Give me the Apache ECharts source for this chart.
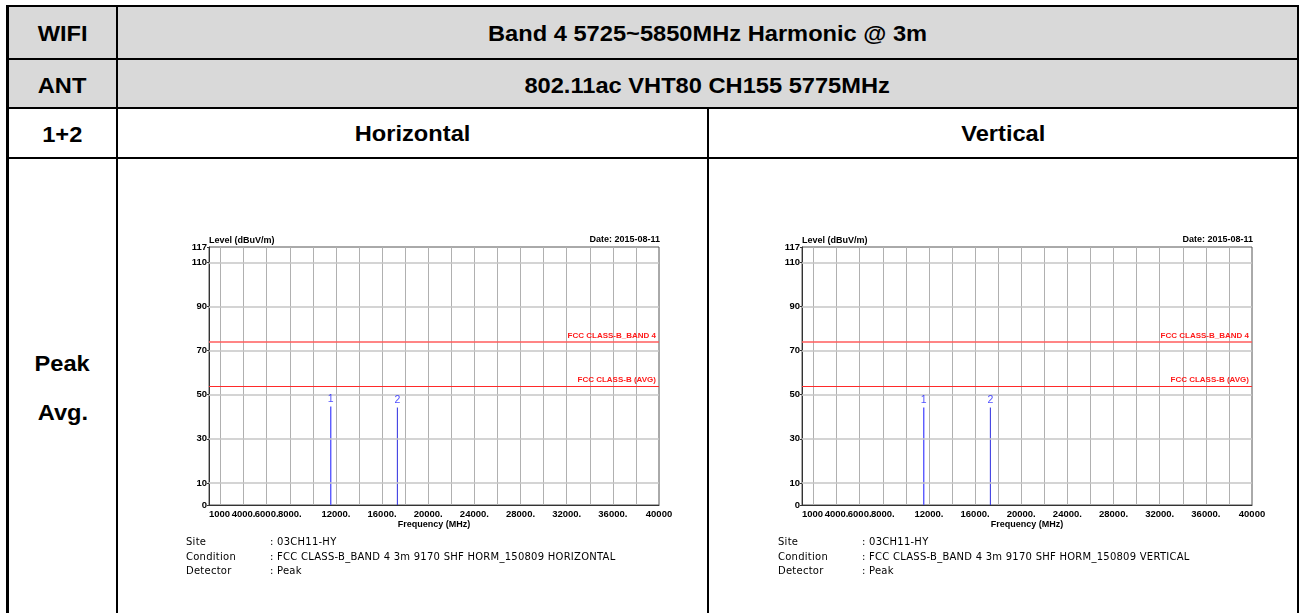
<!DOCTYPE html>
<html>
<head>
<meta charset="utf-8">
<script src="https://cdn.jsdelivr.net/npm/echarts@6/dist/echarts.min.js"></script>
<style>
html,body{margin:0;padding:0;background:#fff;}
#page{position:relative;width:1300px;height:613px;overflow:hidden;font-family:"Liberation Sans",Arial,sans-serif;}
.ln{position:absolute;background:#000;}
.gray{position:absolute;background:#d9d9d9;}
.cell{position:absolute;display:flex;align-items:center;justify-content:center;font-weight:bold;font-size:21.5px;color:#000;line-height:1;}
.cell span{display:inline-block;transform:scaleX(1.1);white-space:nowrap;}
.info{position:absolute;font-family:"DejaVu Sans",sans-serif;font-size:10px;letter-spacing:0.25px;color:#000;line-height:14.5px;white-space:nowrap;}
.info div{height:14.5px;}
#chart{position:absolute;left:0;top:0;width:1300px;height:613px;}
</style>
</head>
<body>
<div id="page">
  <div class="gray" style="left:9px;top:7px;width:1288px;height:101px;"></div>
  <!-- borders -->
  <div class="ln" style="left:6px;top:5px;width:1293px;height:2px;"></div>
  <div class="ln" style="left:6px;top:5px;width:3px;height:608px;"></div>
  <div class="ln" style="left:1297px;top:5px;width:2px;height:608px;"></div>
  <div class="ln" style="left:6px;top:58px;width:1293px;height:2px;"></div>
  <div class="ln" style="left:6px;top:107px;width:1293px;height:2px;"></div>
  <div class="ln" style="left:6px;top:157px;width:1293px;height:2px;"></div>
  <div class="ln" style="left:116px;top:5px;width:2px;height:608px;"></div>
  <div class="ln" style="left:707px;top:108px;width:2px;height:505px;"></div>

  <div class="cell" style="left:9px;top:15px;width:107px;height:40px;"><span>WIFI</span></div>
  <div class="cell" style="left:118px;top:15px;width:1179px;height:40px;"><span>Band 4 5725~5850MHz Harmonic @ 3m</span></div>
  <div class="cell" style="left:9px;top:67px;width:107px;height:40px;"><span>ANT</span></div>
  <div class="cell" style="left:118px;top:67px;width:1179px;height:40px;"><span>802.11ac VHT80 CH155 5775MHz</span></div>
  <div class="cell" style="left:9px;top:116px;width:107px;height:40px;"><span>1+2</span></div>
  <div class="cell" style="left:118px;top:115px;width:589px;height:40px;"><span>Horizontal</span></div>
  <div class="cell" style="left:709px;top:115px;width:588px;height:40px;"><span>Vertical</span></div>
  <div class="cell" style="left:9px;top:345px;width:107px;height:40px;"><span>Peak</span></div>
  <div class="cell" style="left:9px;top:394px;width:107px;height:40px;"><span>Avg.</span></div>

  <div id="chart"></div>

  <div class="info" style="left:186px;top:535px;"><div>Site</div><div>Condition</div><div>Detector</div></div>
  <div class="info" style="left:270px;top:535px;"><div>: 03CH11-HY</div><div>: FCC CLASS-B_BAND 4 3m 9170 SHF HORM_150809 HORIZONTAL</div><div>: Peak</div></div>
  <div class="info" style="left:778px;top:535px;"><div>Site</div><div>Condition</div><div>Detector</div></div>
  <div class="info" style="left:862px;top:535px;"><div>: 03CH11-HY</div><div>: FCC CLASS-B_BAND 4 3m 9170 SHF HORM_150809 VERTICAL</div><div>: Peak</div></div>
</div>
<script>
// ---- data ----
const xMin = 1000, xMax = 40000;
const yMin = 0, yMax = 117;
const xTickValues = [1000, 4000, 6000, 8000, 12000, 16000, 20000, 24000, 28000, 32000, 36000, 40000];
const xTickLabels = ['1000', '4000.', '6000.', '8000.', '12000.', '16000.', '20000.', '24000.', '28000.', '32000.', '36000.', '40000'];
const yTickValues = [0, 10, 30, 50, 70, 90, 110, 117];
const xGridValues = [2000, 4000, 6000, 8000, 10000, 12000, 14000, 16000, 18000, 20000, 22000, 24000, 26000, 28000, 30000, 32000, 34000, 36000, 38000];
const yGridValues = [10, 30, 50, 70, 90, 110];
const limitNames = ['FCC CLASS-B_BAND 4', 'FCC CLASS-B (AVG)'];
const limitLevels = [74, 54];
const markerIds = ['1', '2'];
const spikeFreqH = [11550, 17325];
const spikeLevelH = [44.7, 44.2];
const spikeFreqV = [11550, 17325];
const spikeLevelV = [44.2, 44.2];
const yAxisTitle = 'Level (dBuV/m)';
const xAxisTitle = 'Frequency (MHz)';
const dateText = 'Date: 2015-08-11';

// ---- chart ----
const chart = echarts.init(document.getElementById('chart'), null, {renderer: 'canvas'});
const plotLefts = [209, 802];
const plotTop = 247, plotW = 450, plotH = 258;
const spikeColors = ['#5a5aff', '#2b2bdf'];
const FF = 'Liberation Sans, Arial, sans-serif';
const labelFont = {fontSize: 9.5, fontWeight: 'bold', color: '#000', fontFamily: FF};

const grids = [], xAxes = [], yAxes = [], series = [], graphics = [];
[[spikeFreqH, spikeLevelH], [spikeFreqV, spikeLevelV]].forEach(([freqs, levels], gi) => {
  grids.push({left: plotLefts[gi], top: plotTop, width: plotW, height: plotH, show: true,
    borderColor: '#555', borderWidth: 1, backgroundColor: 'transparent'});
  xAxes.push({gridIndex: gi, type: 'value', min: xMin, max: xMax,
    axisLine: {show: true, onZero: false, lineStyle: {color: '#333', width: 1}},
    axisTick: {show: false}, splitLine: {show: false},
    axisLabel: Object.assign({customValues: xTickValues, margin: 4, alignMinLabel: 'left', alignMaxLabel: 'center',
      formatter: v => { const k = xTickValues.indexOf(v); return k >= 0 ? xTickLabels[k] : ''; }}, labelFont),
    name: xAxisTitle, nameLocation: 'middle', nameGap: 14,
    nameTextStyle: {fontSize: 9, fontWeight: 'bold', color: '#000', fontFamily: FF}
  });
  yAxes.push({gridIndex: gi, type: 'value', min: yMin, max: yMax,
    axisLine: {show: true, onZero: false, lineStyle: {color: '#333', width: 1}},
    axisTick: {show: true, customValues: yTickValues, length: 2, lineStyle: {color: '#333'}},
    splitLine: {show: false},
    axisLabel: Object.assign({customValues: yTickValues, margin: 2}, labelFont)
  });
  // grid lines
  series.push({type: 'line', xAxisIndex: gi, yAxisIndex: gi, data: [], z: 1,
    markLine: {silent: true, symbol: ['none', 'none'], animation: false, label: {show: false},
      lineStyle: {color: '#b0b0b0', width: 1, type: 'solid'},
      data: xGridValues.map(v => ({xAxis: v}))
        .concat(yGridValues.map(v => ({yAxis: v, lineStyle: {color: '#c6c6c6', width: 1.5, type: 'solid'}})))
    }});
  // limit lines
  series.push({type: 'line', xAxisIndex: gi, yAxisIndex: gi, data: [], z: 3,
    markLine: {silent: true, symbol: ['none', 'none'], animation: false,
      data: limitLevels.map((v, i) => ({yAxis: v,
        lineStyle: {color: i === 0 ? '#ff5c5c' : '#ff2a2a', width: i === 0 ? 1.6 : 1, type: 'solid'},
        label: {show: true, position: 'insideEndTop', distance: [3, 2], formatter: limitNames[i],
          fontSize: 8, fontWeight: 'bold', color: '#ff1a1a', fontFamily: FF}}))
    }});
  // spikes
  freqs.forEach((f, i) => {
    series.push({type: 'line', xAxisIndex: gi, yAxisIndex: gi, z: 4, symbol: 'none', animation: false,
      data: [[f, 0], [f, levels[i]]],
      lineStyle: {color: spikeColors[i], width: i === 0 ? 1.4 : 1}});
  });
  series.push({type: 'scatter', xAxisIndex: gi, yAxisIndex: gi, z: 5, symbolSize: 1, animation: false,
    itemStyle: {color: 'rgba(0,0,0,0)'},
    data: freqs.map((f, i) => ({value: [f, levels[i]]})),
    label: {show: true, position: 'top', distance: 1, formatter: p => markerIds[p.dataIndex],
      fontSize: 10.5, color: '#2020ff', fontFamily: FF}});
  graphics.push({type: 'text', x: plotLefts[gi], y: plotTop - 6,
    style: {text: yAxisTitle, font: 'bold 9px "Liberation Sans", Arial, sans-serif', fill: '#000',
      textAlign: 'left', textVerticalAlign: 'middle'}});
  graphics.push({type: 'text', x: plotLefts[gi] + plotW + 1, y: plotTop - 7,
    style: {text: dateText, font: 'bold 9px "Liberation Sans", Arial, sans-serif', fill: '#000',
      textAlign: 'right', textVerticalAlign: 'middle'}});
});

chart.setOption({
  animation: false,
  backgroundColor: 'transparent',
  grid: grids, xAxis: xAxes, yAxis: yAxes, series: series, graphic: graphics
});
</script>
</body>
</html>
